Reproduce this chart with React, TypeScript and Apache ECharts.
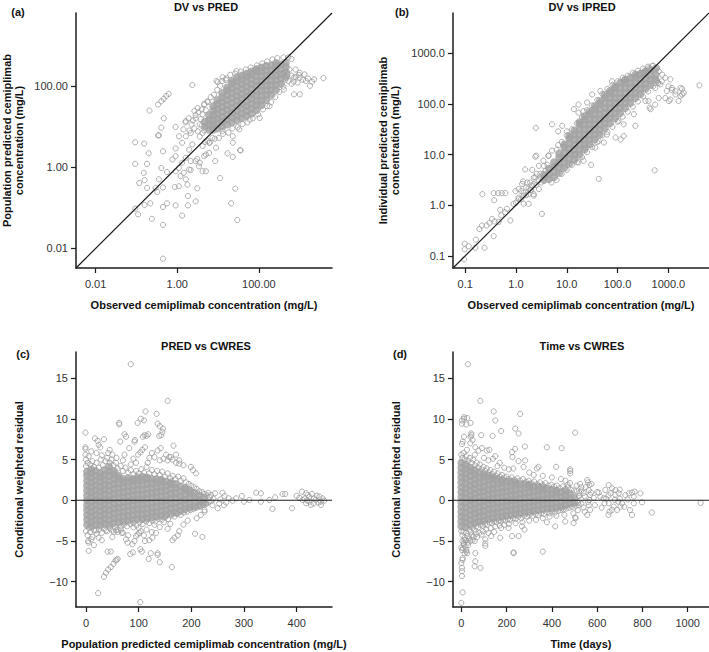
import React, { useEffect, useRef } from 'react';
import * as echarts from 'echarts';

// ---------- Panel (a) DV vs PRED (values are log10 of mg/L) ----------
const aTicks = [0.01, 1, 100];
const aRange = [-2.48, 3.79];
const aCore: [number, number[]][] = [
  [0.68, [1.0, 1.12]],
  [0.78, [0.92, 1.04, 1.16, 1.28]],
  [0.88, [0.92, 1.04, 1.16, 1.28, 1.4, 1.5]],
  [0.98, [0.95, 1.07, 1.19, 1.31, 1.43, 1.55, 1.65]],
  [1.1, [1.0, 1.12, 1.24, 1.36, 1.48, 1.6, 1.72, 1.82]],
  [1.22, [1.05, 1.17, 1.29, 1.41, 1.53, 1.65, 1.77, 1.89, 1.96]],
  [1.34, [1.1, 1.22, 1.34, 1.46, 1.58, 1.7, 1.82, 1.94, 2.06, 2.12]],
  [1.46, [1.15, 1.27, 1.39, 1.51, 1.63, 1.75, 1.87, 1.99, 2.11, 2.2]],
  [1.58, [1.2, 1.32, 1.44, 1.56, 1.68, 1.8, 1.92, 2.04, 2.16, 2.25]],
  [1.7, [1.26, 1.38, 1.5, 1.62, 1.74, 1.86, 1.98, 2.1, 2.22, 2.3]],
  [1.82, [1.32, 1.44, 1.56, 1.68, 1.8, 1.92, 2.04, 2.16, 2.28, 2.35]],
  [1.94, [1.4, 1.52, 1.64, 1.76, 1.88, 2.0, 2.12, 2.24, 2.36, 2.41]],
  [2.06, [1.52, 1.64, 1.76, 1.88, 2.0, 2.12, 2.24, 2.36, 2.45]],
  [2.18, [1.65, 1.77, 1.89, 2.01, 2.13, 2.25, 2.37, 2.49]],
  [2.3, [1.78, 1.9, 2.02, 2.14, 2.26, 2.38, 2.5]],
  [2.42, [1.9, 2.02, 2.14, 2.26, 2.38, 2.5, 2.56]],
  [2.54, [2.05, 2.17, 2.29, 2.41, 2.53]],
  [2.66, [2.22, 2.34, 2.46, 2.56]],
];
const aPoints: number[][] = [
  [0.45, 1.2], [0.52, 1.35], [0.6, 1.42], [0.66, 1.55], [0.75, 1.6], [0.82, 1.72], [0.9, 1.78], [0.98, 1.9], [1.05, 2.0], [1.1, 2.12], [1.2, 2.18], [1.3, 2.27], [1.42, 2.3], [1.55, 2.35], [1.68, 2.4], [1.8, 2.45], [1.95, 2.5], [2.08, 2.55], [2.2, 2.6], [2.33, 2.65], [2.45, 2.68], [2.6, 2.7], [2.72, 2.7], [2.8, 2.66],
  [1.11, 2.21], [0.66, 1.54], [0.74, 1.62], [0.99, 2.09], [1.19, 2.14], [0.37, 2.02], [1.45, 2.36], [0.96, 2.12], [0.62, 1.3], [0.7, 1.4], [0.58, 1.18],
  [0.55, 0.75], [0.68, 0.62], [0.8, 0.6], [0.92, 0.7], [1.02, 0.72], [1.12, 0.82], [1.25, 0.85], [1.35, 0.95], [1.48, 0.98], [1.6, 1.06], [1.72, 1.1], [1.85, 1.2], [1.98, 1.3], [2.1, 1.42], [2.2, 1.5], [2.3, 1.6], [2.4, 1.72], [2.5, 1.85], [2.6, 1.98], [2.72, 2.12], [2.85, 2.2],
  [1.36, 0.6], [1.54, 0.42], [2.02, 1.21], [2.26, 1.5], [1.77, 1.17], [0.33, 0.84], [0.62, 0.84], [0.86, 0.72], [1.11, 0.89], [1.36, 0.76], [1.52, 0.93], [0.74, 0.64], [0.66, 0.9], [0.6, 1.02],
  [2.6, 2.3], [2.7, 2.28], [2.8, 2.25], [2.9, 2.22], [3.0, 2.2], [3.08, 2.15], [3.15, 2.12], [2.95, 2.08], [2.85, 2.1], [3.25, 2.0], [3.2, 2.18], [3.3, 2.1], [2.75, 2.4], [2.9, 2.4], [3.0, 2.32], [3.12, 2.28], [2.65, 2.15], [2.8, 2.05], [3.58, 2.19], [2.86, 1.79], [3.0, 1.79], [2.61, 1.91], [3.35, 2.16], [2.98, 2.27],
  [0.2, 1.1], [0.28, 1.2], [0.35, 1.05], [0.42, 0.95], [0.3, 0.9], [0.5, 0.88], [0.45, 1.28], [0.38, 1.15], [0.55, 1.05], [0.15, 0.93], [0.21, 1.13], [-0.04, 0.99], [0.5, 1.45], [0.42, 1.38],
  [-0.68, 1.39], [-0.47, 1.54], [-0.39, 1.62], [-0.33, 1.68], [-0.27, 1.75], [-0.21, 1.8], [-0.33, 1.2], [-0.39, 0.97], [-0.47, 0.78],
  [-1.03, 0.61], [-0.81, 0.58], [-0.45, 0.78], [-0.7, 0.34], [-0.35, 0.39], [-0.04, 0.46], [-0.12, 0.19], [-1.03, 0.08], [-0.74, 0.08], [-0.82, -0.14], [-0.39, -0.02], [-0.25, -0.12], [-0.04, -0.1], [0.21, 0.23], [0.37, 0.56], [0.12, 0.6], [0.04, 0.76], [0.21, 0.76], [0.45, 0.15], [0.53, 0.02], [0.33, -0.07], [0.16, -0.14], [0.08, -0.22], [0.21, -0.3], [0.04, -0.47], [-0.06, -0.49], [-0.35, -0.5], [-0.53, -0.51], [-0.74, -0.51], [-0.93, -0.39], [-0.8, -0.32], [-0.45, -0.3], [-0.49, -0.61], [-0.66, -0.89], [-0.8, -0.93], [-1.03, -1.02], [-0.96, -1.16], [-0.62, -1.27], [-0.35, -0.98], [-0.25, -0.89], [-0.04, -0.94], [0.12, -1.19], [0.26, -0.94], [0.26, -0.71], [0.45, -0.84], [0.49, -0.52], [0.25, -0.43], [0.62, -0.1], [0.7, -0.1], [0.93, 0.15], [1.05, -0.27], [1.23, 0.34], [1.36, 0.25], [1.55, 0.41], [1.42, -0.53], [1.32, -0.89], [1.47, -1.3], [-0.35, -1.42], [-0.35, -2.25], [0.66, 0.27], [0.78, 0.35], [0.55, 0.11],
  [0.12, 0.11], [0.29, -0.06], [0.04, -0.02], [0.33, 0.15], [0.49, 0.2], [0.7, 0.31], [0.29, 0.43], [-0.04, 0.27], [0.62, 0.52], [0.78, 0.6], [0.95, 0.48],
];

// ---------- Panel (b) DV vs IPRED (values are log10 of mg/L) ----------
const bTicks = [0.1, 1, 10, 100, 1000];
const bRange = [-1.24, 3.8];
const bCore: [number, number[]][] = [
  [0.55, [0.5, 0.6]],
  [0.65, [0.52, 0.62, 0.72]],
  [0.75, [0.56, 0.66, 0.76, 0.85]],
  [0.85, [0.64, 0.74, 0.84, 0.94, 1.02]],
  [0.95, [0.74, 0.84, 0.94, 1.04, 1.14, 1.2]],
  [1.05, [0.82, 0.92, 1.02, 1.12, 1.22, 1.32, 1.37]],
  [1.15, [0.9, 1.0, 1.1, 1.2, 1.3, 1.4, 1.48]],
  [1.25, [1.0, 1.1, 1.2, 1.3, 1.4, 1.5, 1.6, 1.64]],
  [1.35, [1.1, 1.2, 1.3, 1.4, 1.5, 1.6, 1.7, 1.76]],
  [1.45, [1.2, 1.3, 1.4, 1.5, 1.6, 1.7, 1.8, 1.85]],
  [1.55, [1.3, 1.4, 1.5, 1.6, 1.7, 1.8, 1.9, 1.96]],
  [1.65, [1.4, 1.5, 1.6, 1.7, 1.8, 1.9, 2.0, 2.06]],
  [1.75, [1.52, 1.62, 1.72, 1.82, 1.92, 2.02, 2.12, 2.18]],
  [1.85, [1.62, 1.72, 1.82, 1.92, 2.02, 2.12, 2.22, 2.26]],
  [1.95, [1.72, 1.82, 1.92, 2.02, 2.12, 2.22, 2.32, 2.34]],
  [2.05, [1.82, 1.92, 2.02, 2.12, 2.22, 2.32, 2.42]],
  [2.15, [1.92, 2.02, 2.12, 2.22, 2.32, 2.42, 2.48]],
  [2.25, [2.02, 2.12, 2.22, 2.32, 2.42, 2.52]],
  [2.35, [2.12, 2.22, 2.32, 2.42, 2.52, 2.58]],
  [2.45, [2.2, 2.3, 2.4, 2.5, 2.6]],
  [2.55, [2.3, 2.4, 2.5, 2.6, 2.65]],
  [2.65, [2.38, 2.48, 2.58, 2.68]],
  [2.75, [2.48, 2.58, 2.7]],
];
const bPoints: number[][] = [
  [-1.01, -0.76], [-0.93, -0.81], [-1.01, -0.87], [-0.79, -0.68], [-0.8, -0.84], [-0.62, -0.84], [-0.72, -0.47], [-0.67, -0.4], [-0.58, -0.4], [-0.52, -0.35], [-0.47, -0.27], [-0.42, -0.32], [-0.34, -0.33], [-0.29, -0.2], [-0.31, -0.09], [-0.21, -0.14], [-0.11, -0.3], [-0.44, -0.61], [-1.02, -1.07], [-0.66, 0.22], [-0.44, 0.24], [-0.35, 0.24], [-0.28, 0.24], [-0.21, 0.24], [-0.43, 0.1], [-0.01, 0.28], [0.05, 0.32], [0.15, 0.19], [0.14, 0.47], [0.18, 0.71], [0.28, 0.3], [0.35, 0.19], [0.32, 0.7], [0.38, 0.96], [0.51, -0.17], [0.41, 0.62], [0.45, 0.78], [0.54, 0.88], [0.64, 0.98], [0.71, 1.08], [0.83, 1.19], [1.63, 0.52], [2.73, 0.69], [1.48, 0.8], [1.23, 0.85], [1.33, 0.88], [0.25, 0.03], [0.15, 0.03], [-0.05, 0.03], [-0.18, -0.07], [0.05, 0.12], [0.22, 0.45], [0.32, 0.39], [0.48, 0.55], [0.35, 0.55], [0.25, 0.22], [0.58, 0.68], [0.12, 0.42],
  [0.0, 0.05], [0.05, 0.15], [0.1, 0.12], [0.15, 0.25], [0.2, 0.2], [0.25, 0.33], [0.3, 0.3], [0.35, 0.42], [0.4, 0.4], [0.45, 0.5], [0.5, 0.45], [0.28, 0.45], [0.38, 0.55], [0.48, 0.62], [0.58, 0.55], [0.2, 0.35], [0.1, 0.28], [0.55, 0.78], [0.62, 0.8], [0.45, 0.32], [0.35, 0.22],
  [0.39, 1.53], [0.71, 1.6], [0.83, 1.46], [0.91, 1.57], [1.0, 1.46], [1.14, 1.9], [1.23, 1.99], [1.23, 1.83], [1.33, 1.86], [1.4, 2.03], [1.5, 2.19], [1.66, 2.26], [1.89, 2.45], [2.12, 2.47], [2.42, 2.58], [2.51, 2.62], [2.61, 2.71], [2.68, 2.75], [2.81, 2.65], [2.88, 2.58], [2.78, 2.45], [2.84, 2.39], [2.94, 2.52], [3.04, 2.49], [3.07, 2.32], [2.97, 2.26], [3.14, 2.19], [3.24, 2.32], [3.27, 2.19], [3.2, 2.06], [3.01, 2.06], [2.81, 2.12], [2.74, 1.99], [2.65, 1.9], [2.55, 2.06], [2.32, 1.8], [2.35, 1.57], [2.12, 1.6], [2.02, 1.67], [1.96, 1.34], [2.06, 1.3], [2.12, 1.37], [1.79, 1.4], [1.63, 1.27], [1.37, 1.14], [1.17, 1.01], [1.56, 1.14], [1.73, 1.24], [3.61, 2.37], [0.4, 0.98], [0.64, 0.98],
  [2.8, 2.42], [3.0, 2.35], [3.14, 2.25], [3.24, 2.16], [3.3, 2.22], [3.04, 2.09], [2.94, 2.12], [2.63, 1.93], [2.61, 2.06], [2.74, 2.32], [2.87, 2.45], [3.07, 2.28], [3.27, 2.3],
  [0.8, 1.1], [0.9, 1.25], [1.0, 1.38], [1.1, 1.5], [1.2, 1.62], [1.3, 1.74], [1.4, 1.88], [1.5, 1.97], [1.6, 2.08], [1.7, 2.2], [1.8, 2.3], [1.9, 2.38], [2.0, 2.45], [2.1, 2.52], [2.2, 2.56], [2.3, 2.62], [2.4, 2.66], [2.5, 2.7], [2.6, 2.74], [2.7, 2.76], [2.78, 2.72],
  [0.7, 0.45], [0.8, 0.5], [0.9, 0.62], [1.0, 0.7], [1.1, 0.8], [1.2, 0.85], [1.3, 0.95], [1.4, 1.05], [1.5, 1.15], [1.6, 1.25], [1.7, 1.38], [1.8, 1.45], [1.9, 1.55], [2.0, 1.65], [2.1, 1.75], [2.2, 1.85], [2.3, 1.95], [2.4, 2.05], [2.5, 2.15], [2.6, 2.25], [2.7, 2.35], [2.8, 2.42],
];

// ---------- Panel (c) PRED vs CWRES ----------
const cTicksX = [0, 100, 200, 300, 400];
const cTicksY = [-10, -5, 0, 5, 10, 15];
const cRangeX = [-19, 467];
const resRange = [-13.1, 18.2];
const cCore: [number, number[]][] = [
  [2, [-3.0, -2.4, -1.8, -1.2, -0.6, 0, 0.6, 1.2, 1.8, 2.4, 3.0, 3.5]],
  [10, [-3.2, -2.6, -2.0, -1.4, -0.8, -0.2, 0.4, 1.0, 1.6, 2.2, 2.8, 3.4, 3.8]],
  [18, [-3.0, -2.4, -1.8, -1.2, -0.6, 0, 0.6, 1.2, 1.8, 2.4, 3.0, 3.6]],
  [27, [-3.1, -2.5, -1.9, -1.3, -0.7, -0.1, 0.5, 1.1, 1.7, 2.3, 2.9, 3.3]],
  [35, [-2.9, -2.3, -1.7, -1.1, -0.5, 0.1, 0.7, 1.3, 1.9, 2.5, 3.1, 3.7]],
  [44, [-3.0, -2.4, -1.8, -1.2, -0.6, 0, 0.6, 1.2, 1.8, 2.4, 3.0, 3.6, 4.1]],
  [53, [-2.8, -2.2, -1.6, -1.0, -0.4, 0.2, 0.8, 1.4, 2.0, 2.6, 3.2, 3.6]],
  [62, [-2.7, -2.1, -1.5, -0.9, -0.3, 0.3, 0.9, 1.5, 2.1, 2.7, 3.0]],
  [71, [-2.6, -2.0, -1.4, -0.8, -0.2, 0.4, 1.0, 1.6, 2.2, 2.6]],
  [80, [-2.5, -1.9, -1.3, -0.7, -0.1, 0.5, 1.1, 1.7, 2.3, 2.7]],
  [89, [-2.4, -1.8, -1.2, -0.6, 0, 0.6, 1.2, 1.8, 2.4, 2.6]],
  [98, [-2.3, -1.7, -1.1, -0.5, 0.1, 0.7, 1.3, 1.9, 2.5, 2.8]],
  [107, [-2.3, -1.7, -1.1, -0.5, 0.1, 0.7, 1.3, 1.9, 2.5, 2.9]],
  [116, [-2.2, -1.6, -1.0, -0.4, 0.2, 0.8, 1.4, 2.0, 2.6, 2.8]],
  [125, [-2.1, -1.5, -0.9, -0.3, 0.3, 0.9, 1.5, 2.1, 2.6]],
  [134, [-2.0, -1.4, -0.8, -0.2, 0.4, 1.0, 1.6, 2.2, 2.6]],
  [143, [-1.9, -1.3, -0.7, -0.1, 0.5, 1.1, 1.7, 2.3, 2.5]],
  [152, [-1.8, -1.2, -0.6, 0, 0.6, 1.2, 1.8, 2.3]],
  [161, [-1.6, -1.0, -0.4, 0.2, 0.8, 1.4, 2.0, 2.2]],
  [170, [-1.5, -0.9, -0.3, 0.3, 0.9, 1.5, 2.0]],
  [179, [-1.3, -0.7, -0.1, 0.5, 1.1, 1.7]],
  [188, [-1.1, -0.5, 0.1, 0.7, 1.3, 1.5]],
  [197, [-0.9, -0.3, 0.3, 0.9, 1.2]],
  [206, [-0.8, -0.2, 0.4, 0.9]],
  [215, [-0.6, 0, 0.6]],
  [224, [-0.3, 0.3]],
];
const cPoints: number[][] = [
  [0, 4.2], [0, 5.0], [3, 4.6], [8, 4.4], [12, 4.8], [15, 4.1], [20, 4.6], [24, 4.0], [28, 5.0], [32, 4.3], [37, 4.8], [40, 5.2], [45, 4.6], [48, 5.0], [52, 4.3], [57, 4.6], [60, 3.9], [66, 4.2], [70, 3.6], [75, 4.0], [80, 3.4], [85, 3.7], [90, 3.2], [95, 3.6], [100, 3.3], [105, 3.8], [110, 3.4], [115, 4.1], [120, 3.3], [125, 3.7], [130, 3.2], [135, 3.6], [140, 3.1], [145, 3.5], [150, 2.9], [155, 3.3], [160, 2.7], [165, 3.0], [170, 2.6], [175, 2.9], [180, 2.4], [185, 2.7], [190, 2.2], [195, 2.0], [200, 1.8], [205, 1.6], [210, 1.4], [215, 1.1], [220, 1.0], [225, 0.8], [230, 0.6], [235, 0.4],
  [0, -3.8], [3, -4.3], [8, -3.9], [12, -4.5], [16, -3.7], [20, -4.1], [25, -3.6], [30, -4.0], [35, -3.5], [40, -3.8], [45, -3.4], [50, -3.7], [55, -3.3], [60, -3.6], [66, -3.2], [72, -3.0], [78, -3.2], [84, -2.9], [90, -2.8], [96, -3.1], [102, -2.7], [108, -2.9], [114, -2.6], [120, -2.8], [126, -2.5], [132, -2.6], [138, -2.3], [144, -2.4], [150, -2.1], [156, -2.3], [162, -1.9], [168, -2.0], [174, -1.7], [180, -1.8], [186, -1.5], [192, -1.4], [198, -1.2], [204, -1.1], [210, -0.9], [216, -0.8], [222, -0.6], [228, -0.5], [233, -0.2],
  [4, -5.0], [10, -4.8], [24, -4.6], [53, -3.9], [68, -4.0], [90, -3.3], [60, -3.9], [100, -3.4], [130, -3.0], [148, -2.7],
  [85, 16.7], [155, 12.2], [113, 10.9], [134, 10.6], [104, 10.0], [98, 9.5], [110, 9.8], [63, 9.5], [63, 9.3], [136, 9.4], [140, 9.1], [146, 8.8], [145, 8.4], [143, 8.0], [139, 7.9], [-1, 8.3], [17, 7.6], [22, 7.3], [24, 6.8], [27, 6.5], [34, 7.5], [73, 8.1], [76, 7.8], [93, 7.4], [118, 8.1], [115, 7.9], [108, 7.8], [111, 8.0], [166, 6.7], [65, 7.2], [82, 6.4], [-1, 6.5], [-1, 6.3], [-1, 5.6], [73, 5.6], [92, 7.2], [99, 5.6], [103, 5.9], [107, 6.2], [112, 6.5], [152, 5.6], [161, 5.3], [177, 4.5], [185, 4.3], [199, 4.1], [203, 3.7], [209, 3.3], [171, 4.6], [136, 6.1], [142, 6.4], [158, 5.3], [155, 4.9], [164, 5.0], [171, 5.6], [177, 4.9], [5, 5.4], [10, 6.0], [20, 5.8], [30, 5.5], [42, 5.8], [50, 5.6], [58, 5.2], [90, 5.1], [95, 4.6], [120, 5.2], [125, 5.8], [130, 5.3], [140, 4.9], [147, 5.1], [117, 4.6], [85, 4.4], [70, 4.9], [45, 6.2],
  [23, -11.4], [103, -12.5], [34, -9.4], [38, -8.9], [42, -8.5], [47, -8.2], [52, -7.8], [56, -7.4], [58, -7.3], [60, -7.2], [5, -6.2], [5, -5.2], [41, -6.3], [47, -6.3], [84, -6.6], [89, -6.4], [103, -6.0], [106, -6.3], [119, -7.2], [123, -6.5], [136, -6.5], [136, -6.7], [140, -7.6], [163, -8.2], [76, -4.8], [79, -5.2], [95, -4.4], [98, -4.2], [101, -4.0], [104, -3.8], [112, -5.0], [120, -4.9], [126, -4.6], [133, -4.0], [164, -4.9], [168, -4.6], [174, -4.3], [177, -3.8], [207, -4.1], [221, -4.5], [6, -3.4], [19, -3.7], [38, -3.7], [57, -3.7], [66, -3.6], [88, -5.4], [92, -5.0], [110, -4.3], [115, -3.6], [125, -3.9], [140, -3.3], [155, -3.5], [160, -2.9], [185, -3.0], [193, -2.5], [210, -2.2], [218, -1.8], [225, -1.4], [80, -4.3], [70, -4.0], [50, -4.5], [30, -4.9], [15, -5.5],
  [237, 0.65], [245, 0.85], [259, 0.93], [263, 0.53], [271, 0.24], [285, 0.24], [296, 0.53], [300, -0.17], [310, 0.04], [323, 0.93], [332, 0.85], [332, -0.17], [348, 0.04], [359, 0.36], [354, -1.06], [373, 0.77], [378, 0.77], [391, -0.98], [410, 1.05], [418, 0.85], [421, 0.65], [424, 0.44], [429, 0.77], [433, 0.24], [436, 0.04], [443, 0.44], [446, -0.17], [449, 0.24], [452, -0.05], [418, -0.37], [427, -0.57], [446, -0.57], [424, -0.17], [411, 0.04], [253, -0.37], [250, -0.98], [266, -0.29], [278, -0.05], [228, -0.37], [225, -1.2], [240, -0.6], [242, 0.2], [255, 0.1], [232, 0.9], [238, -0.1], [262, -0.6], [415, 0.2], [420, -0.05], [438, 0.55], [441, -0.3], [432, -0.4], [405, 0.3], [400, 0.55],
];

// ---------- Panel (d) Time vs CWRES ----------
const dTicksX = [0, 200, 400, 600, 800, 1000];
const dRangeX = [-36.6, 1094];
const dCore: [number, number[]][] = [
  [0, [-3.2, -2.6, -2.0, -1.4, -0.8, -0.2, 0.4, 1.0, 1.6, 2.2, 2.8, 3.4, 4.0, 4.6]],
  [20, [-3.3, -2.7, -2.1, -1.5, -0.9, -0.3, 0.3, 0.9, 1.5, 2.1, 2.7, 3.3, 3.9, 4.4]],
  [40, [-3.0, -2.4, -1.8, -1.2, -0.6, 0, 0.6, 1.2, 1.8, 2.4, 3.0, 3.6, 4.0]],
  [60, [-2.8, -2.2, -1.6, -1.0, -0.4, 0.2, 0.8, 1.4, 2.0, 2.6, 3.2, 3.7]],
  [80, [-2.6, -2.0, -1.4, -0.8, -0.2, 0.4, 1.0, 1.6, 2.2, 2.8, 3.4]],
  [100, [-2.5, -1.9, -1.3, -0.7, -0.1, 0.5, 1.1, 1.7, 2.3, 2.9, 3.2]],
  [120, [-2.3, -1.7, -1.1, -0.5, 0.1, 0.7, 1.3, 1.9, 2.5, 3.0]],
  [140, [-2.2, -1.6, -1.0, -0.4, 0.2, 0.8, 1.4, 2.0, 2.6, 2.8]],
  [160, [-2.1, -1.5, -0.9, -0.3, 0.3, 0.9, 1.5, 2.1, 2.6]],
  [180, [-2.0, -1.4, -0.8, -0.2, 0.4, 1.0, 1.6, 2.2, 2.5]],
  [200, [-1.9, -1.3, -0.7, -0.1, 0.5, 1.1, 1.7, 2.3]],
  [220, [-1.8, -1.2, -0.6, 0, 0.6, 1.2, 1.8, 2.3]],
  [240, [-1.7, -1.1, -0.5, 0.1, 0.7, 1.3, 1.9, 2.2]],
  [260, [-1.6, -1.0, -0.4, 0.2, 0.8, 1.4, 2.0]],
  [280, [-1.5, -0.9, -0.3, 0.3, 0.9, 1.5, 2.0]],
  [300, [-1.4, -0.8, -0.2, 0.4, 1.0, 1.6, 1.9]],
  [320, [-1.3, -0.7, -0.1, 0.5, 1.1, 1.7]],
  [340, [-1.2, -0.6, 0, 0.6, 1.2, 1.7]],
  [360, [-1.1, -0.5, 0.1, 0.7, 1.3, 1.6]],
  [380, [-1.0, -0.4, 0.2, 0.8, 1.4]],
  [400, [-1.0, -0.4, 0.2, 0.8, 1.3]],
  [420, [-0.9, -0.3, 0.3, 0.9, 1.2]],
  [440, [-0.8, -0.2, 0.4, 1.0]],
  [460, [-0.6, 0, 0.6, 1.1]],
  [480, [-0.4, 0.2, 0.8]],
  [500, [-0.3, 0.3]],
];
const dPoints: number[][] = [
  [0, 5.6], [5, 5.2], [10, 5.8], [15, 5.0], [22, 5.4], [30, 4.8], [38, 5.2], [45, 4.6], [52, 5.0], [60, 4.3], [68, 4.6], [75, 4.0], [82, 4.4], [90, 3.8], [98, 4.1], [105, 3.6], [112, 3.9], [120, 3.4], [128, 3.7], [136, 3.2], [145, 3.5], [152, 3.0], [160, 3.3], [170, 2.9], [180, 3.1], [190, 2.8], [200, 2.9], [210, 2.6], [222, 2.8], [235, 2.5], [248, 2.7], [260, 2.4], [272, 2.6], [285, 2.3], [298, 2.4], [310, 2.1], [322, 2.3], [335, 2.0], [348, 2.2], [360, 1.9], [372, 2.1], [385, 1.8], [398, 1.9], [410, 1.7], [422, 1.8], [435, 1.5], [448, 1.7], [460, 1.4], [472, 1.6], [485, 1.3], [498, 1.2], [510, 1.1], [522, 0.9],
  [0, -3.8], [5, -4.3], [10, -3.9], [15, -4.6], [22, -4.0], [28, -4.4], [35, -3.6], [42, -3.9], [50, -3.4], [58, -3.7], [66, -3.2], [75, -3.3], [85, -3.0], [95, -3.1], [105, -2.9], [115, -3.0], [125, -2.7], [135, -2.8], [145, -2.6], [155, -2.7], [165, -2.5], [175, -2.6], [185, -2.4], [195, -2.5], [205, -2.3], [215, -2.4], [228, -2.2], [240, -2.3], [252, -2.0], [265, -2.2], [278, -1.9], [290, -2.0], [302, -1.8], [315, -1.9], [328, -1.7], [340, -1.8], [352, -1.6], [365, -1.7], [378, -1.5], [390, -1.6], [402, -1.4], [415, -1.5], [428, -1.3], [440, -1.2], [452, -1.1], [465, -1.0], [478, -0.9], [490, -0.8], [505, -0.7], [518, -0.6], [530, -0.4],
  [5, -5.0], [12, -5.3], [20, -4.9], [28, -5.2], [35, -4.7], [45, -4.3], [55, -4.5], [65, -4.1], [80, -4.0], [95, -3.8], [110, -3.6], [130, -3.4], [150, -3.2], [170, -3.1], [190, -3.0], [210, -2.9], [240, -2.8], [270, -2.7], [300, -2.5], [330, -2.4], [360, -2.2], [390, -2.0], [420, -1.9],
  [29, 16.7], [84, 12.2], [143, 10.9], [150, 9.8], [260, 10.6], [238, 8.8], [253, 8.2], [3, 9.8], [12, 10.0], [3, 9.4], [22, 9.3], [41, 9.5], [12, 10.2], [26, 10.1], [44, 8.0], [44, 8.2], [41, 7.8], [88, 8.0], [138, 7.9], [176, 8.5], [281, 6.6], [503, 8.3], [378, 6.5], [443, 6.4], [224, 5.9], [226, 5.3], [238, 6.3], [253, 4.8], [282, 4.9], [275, 4.1], [334, 3.9], [341, 4.1], [419, 4.1], [481, 3.8], [481, 3.3], [481, 3.6], [40, 7.0], [50, 7.4], [62, 6.5], [76, 6.1], [91, 6.4], [113, 6.1], [124, 6.2], [12, 7.8], [6, 7.2], [3, 6.9], [150, 5.4], [140, 5.1], [170, 4.6], [160, 4.2], [190, 4.0], [210, 3.8], [230, 3.9], [300, 3.4], [320, 3.1], [360, 3.0], [400, 2.8], [440, 2.6], [460, 2.4], [100, 5.2], [120, 4.9], [60, 5.6], [25, 6.2],
  [0, -12.6], [6, -11.3], [3, -9.3], [3, -8.7], [3, -8.3], [0, -7.7], [6, -7.3], [6, -7.1], [0, -5.8], [3, -6.1], [10, -5.4], [22, -6.1], [22, -6.3], [26, -6.5], [18, -5.7], [15, -6.5], [62, -7.5], [59, -8.1], [85, -8.3], [62, -6.5], [59, -5.0], [106, -4.8], [106, -5.3], [106, -5.6], [132, -4.4], [172, -4.6], [224, -4.4], [253, -4.4], [231, -6.4], [231, -6.5], [360, -6.3], [176, -3.4], [209, -3.4], [279, -3.6], [268, -3.2], [378, -2.7], [415, -3.2], [459, -2.6], [496, -2.8], [503, -2.1], [650, -1.8], [841, -1.5], [1057, -0.33], [8, -5.9], [14, -4.9], [30, -5.5], [40, -5.0], [50, -4.9], [70, -4.5], [90, -4.2], [120, -4.0], [145, -3.9],
  [614, 0.44], [629, 0.24], [651, 1.87], [666, 1.47], [681, 1.26], [695, 0.85], [651, -0.37], [666, -1.18], [688, -1.18], [703, -0.78], [710, -0.37], [725, 0.65], [740, 0.85], [754, 0.93], [766, 1.06], [762, 0.44], [762, -0.37], [754, -1.8], [791, 0.85], [798, -0.25], [636, 1.26], [659, 0.85], [678, 0.04], [693, -0.17], [673, -0.78], [633, -0.37], [607, 0.93], [556, 2.48], [566, 1.87], [563, 1.26], [569, 0.65], [566, 0.04], [563, -0.57], [569, -1.18], [556, -1.8], [550, 1.6], [573, 0.95], [560, -0.2], [545, 0.5], [540, -0.9], [530, 1.2], [585, 0.3], [590, -0.6], [600, 1.0], [620, -0.9], [640, 0.2], [700, 0.2], [720, -0.8], [735, 0.1], [745, -1.2], [655, -1.4], [680, 0.7], [700, 1.3], [650, 0.6], [560, 2.2], [575, 2.0],
  [530, 1.6], [545, -1.4], [510, 1.8], [495, -1.6], [515, -1.2], [470, 1.9], [455, -1.8], [480, 2.1], [505, -2.2], [525, 2.0], [520, 0.5], [515, -0.3], [530, 0.1], [540, 0.9],
];

const FONT = '"Liberation Sans", Arial, sans-serif';
const RING = '#9c9c9c';
const CORE = '#a3a3a3';
const INK = '#1c1c1c';

const flat = (cols: [number, number[]][]) => cols.flatMap(([x, ys]) => ys.map((y) => [x, y]));

function axis(gridIndex: number, range: number[], ticks: number[], fmt: (v: number) => string, isY: boolean, name: string, nameGap: number) {
  return {
    type: 'value',
    gridIndex,
    min: range[0],
    max: range[1],
    axisLine: { show: true, onZero: false, lineStyle: { color: INK, width: 1.5 } },
    axisTick: { show: true, inside: false, length: 5, customValues: ticks, lineStyle: { color: INK, width: 1.2 } },
    axisLabel: { show: true, customValues: ticks, formatter: fmt, margin: isY ? 8 : 10, color: '#333', fontSize: 11, fontFamily: FONT },
    splitLine: { show: false },
    name,
    nameLocation: 'middle',
    nameGap,
    nameRotate: isY ? 90 : 0,
    nameTextStyle: { color: '#111', fontSize: 11, fontWeight: 'bold', fontFamily: FONT, lineHeight: 12 },
  };
}

function scatter(idx: number, data: number[][], core: boolean) {
  return {
    type: 'scatter',
    xAxisIndex: idx,
    yAxisIndex: idx,
    data,
    symbol: 'circle',
    symbolSize: core ? 8 : 5.2,
    progressive: 0,
    itemStyle: core
      ? { color: CORE, borderWidth: 0 }
      : { color: 'rgba(0,0,0,0)', borderColor: RING, borderWidth: 1 },
    z: 2,
  };
}

function refLine(idx: number, data: number[][]) {
  return {
    type: 'line',
    xAxisIndex: idx,
    yAxisIndex: idx,
    data,
    symbol: 'none',
    lineStyle: { color: INK, width: 1.2 },
    z: 5,
  };
}

const logFmt = (d: number) => (v: number) => Math.pow(10, v).toFixed(d);
const resFmt = (v: number) => (v < 0 ? '\u2212' + Math.abs(v) : String(v));

function text(x: number, y: number, t: string) {
  return {
    type: 'text',
    x,
    y,
    style: { text: t, font: `bold 11px ${FONT}`, fill: '#111', textAlign: 'center', textVerticalAlign: 'middle', align: 'center', verticalAlign: 'middle' },
  };
}

export default function App() {
  const ref = useRef<HTMLDivElement>(null);
  useEffect(() => {
    document.body.style.margin = '0';
    const chart = echarts.init(ref.current!, undefined, { renderer: 'svg' });
    const aT = aTicks.map(Math.log10);
    const bT = bTicks.map(Math.log10);
    chart.setOption({
      animation: false,
      backgroundColor: '#ffffff',
      grid: [
        { left: 76, top: 13, width: 256, height: 255 },
        { left: 453, top: 13, width: 256, height: 255 },
        { left: 76, top: 352, width: 256, height: 255 },
        { left: 453, top: 352, width: 256, height: 255 },
      ],
      xAxis: [
        axis(0, aRange, aT, logFmt(2), false, 'Observed cemiplimab concentration (mg/L)', 31),
        axis(1, bRange, bT, logFmt(1), false, 'Observed cemiplimab concentration (mg/L)', 31),
        axis(2, cRangeX, cTicksX, resFmt, false, 'Population predicted cemiplimab concentration (mg/L)', 31),
        axis(3, dRangeX, dTicksX, resFmt, false, 'Time (days)', 31),
      ],
      yAxis: [
        axis(0, aRange, aT, logFmt(2), true, 'Population predicted cemiplimab\nconcentration (mg/L)', 51),
        axis(1, bRange, bT, logFmt(1), true, 'Individual predicted cemiplimab\nconcentration (mg/L)', 52),
        axis(2, resRange, cTicksY, resFmt, true, 'Conditional weighted residual', 51),
        axis(3, resRange, cTicksY, resFmt, true, 'Conditional weighted residual', 51),
      ],
      series: [
        scatter(0, flat(aCore), true),
        scatter(0, aPoints, false),
        refLine(0, [[aRange[0], aRange[0]], [aRange[1], aRange[1]]]),
        scatter(1, flat(bCore), true),
        scatter(1, bPoints, false),
        refLine(1, [[bRange[0], bRange[0]], [bRange[1], bRange[1]]]),
        scatter(2, flat(cCore), true),
        scatter(2, cPoints, false),
        refLine(2, [[cRangeX[0], 0], [cRangeX[1], 0]]),
        scatter(3, flat(dCore), true),
        scatter(3, dPoints, false),
        refLine(3, [[dRangeX[0], 0], [dRangeX[1], 0]]),
      ],
      graphic: [
        text(206, 7, 'DV vs PRED'),
        text(582, 7, 'DV vs IPRED'),
        text(206, 346, 'PRED vs CWRES'),
        text(582, 346, 'Time vs CWRES'),
        text(18, 12, '(a)'),
        text(402, 12, '(b)'),
        text(23, 354, '(c)'),
        text(400, 354, '(d)'),
      ],
    });
    return () => chart.dispose();
  }, []);
  return <div ref={ref} style={{ position: 'absolute', left: 0, top: 0, width: 709, height: 652 }} />;
}
